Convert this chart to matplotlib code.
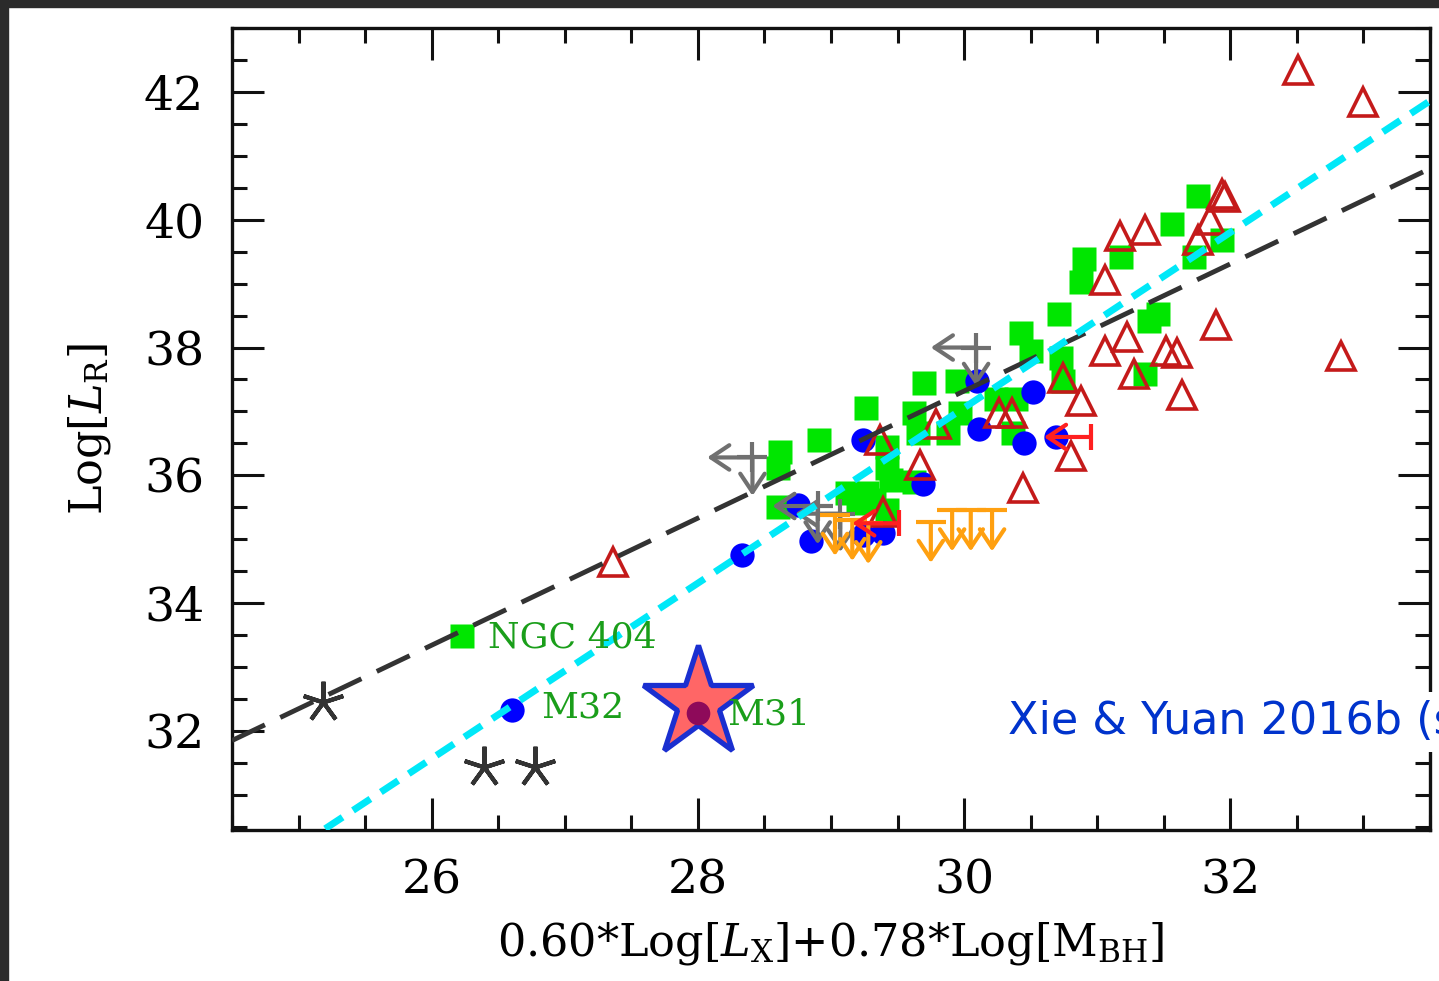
import matplotlib
matplotlib.use("Agg")
import matplotlib.pyplot as plt
from matplotlib.ticker import MultipleLocator
from matplotlib.patches import Rectangle

plt.rcParams['font.family'] = ['DejaVu Serif']
plt.rcParams['mathtext.fontset'] = 'dejavuserif'

# fitted relations (end points)
black_fit_x = [24.5, 33.5]
black_fit_y = [31.85, 40.8]
cyan_fit_x = [25.2, 33.5]
cyan_fit_y = [30.47, 41.86]

# green squares
green_x = [26.23, 28.62, 28.60, 28.60, 28.91, 29.26, 29.42, 29.42, 29.45, 29.62,
           29.12, 29.27, 29.20, 29.32, 29.42, 29.62, 29.65, 29.70, 29.88, 29.95,
           29.97, 30.24, 30.37, 30.39, 30.43, 30.50, 30.71, 30.73, 30.74, 30.88,
           30.90, 31.18, 31.36, 31.39, 31.46, 31.56, 31.73, 31.76, 31.94]
green_y = [33.49, 36.36, 36.11, 35.50, 36.56, 37.06, 36.44, 36.12, 35.92, 35.89,
           35.72, 35.72, 35.56, 35.61, 35.45, 36.98, 36.67, 37.45, 36.67, 37.48,
           36.98, 37.20, 36.67, 37.20, 38.22, 37.95, 38.53, 37.83, 37.48, 39.03,
           39.38, 39.41, 37.59, 38.41, 38.53, 39.94, 39.41, 40.37, 39.69]

# blue circles
blue_x = [26.60, 28.33, 28.75, 28.85, 29.24, 29.39, 29.24, 29.69, 30.10, 30.52,
          30.11, 30.45, 30.69]
blue_y = [32.33, 34.75, 35.53, 34.98, 35.06, 35.09, 36.55, 35.87, 37.48, 37.30,
          36.73, 36.50, 36.60]

# open red triangles
tri_x = [32.51, 33.00, 31.94, 31.96, 31.85, 31.76, 31.17, 31.36, 31.06, 31.89,
         31.22, 31.06, 31.52, 31.60, 32.83, 31.28, 30.74, 30.88, 31.64, 30.26,
         30.36, 29.79, 29.37, 29.67, 30.80, 30.44, 29.39, 27.36]
tri_y = [42.34, 41.84, 40.41, 40.36, 40.00, 39.69, 39.75, 39.84, 39.06, 38.36,
         38.17, 37.94, 37.94, 37.91, 37.86, 37.59, 37.52, 37.17, 37.25, 36.98,
         36.98, 36.81, 36.55, 36.16, 36.31, 35.80, 35.42, 34.64]

# gray asterisks
ast_x = [25.18, 26.39, 26.78]
ast_y = [32.45, 31.44, 31.44]

# gray limits (left + down)
glim_x = [28.41, 30.09, 28.90, 29.07]
glim_y = [36.28, 38.00, 35.52, 35.40]

# orange upper limits
olim_x = [29.03, 29.16, 29.28, 29.75, 29.91, 30.05, 30.21]
olim_y = [35.38, 35.30, 35.25, 35.27, 35.45, 35.45, 35.45]

# red limits (left)
rlim_x = [30.95, 29.51]
rlim_y = [36.60, 35.25]

# M31
m31_x, m31_y = 28.0, 32.44
m31_core_x, m31_core_y = 28.0, 32.28

labels = ["NGC 404", "M32", "M31"]
label_x = [26.42, 26.82, 28.22]
label_y = [33.47, 32.36, 32.25]

fig = plt.figure(figsize=(14.39, 9.81), dpi=100)
ax = fig.add_axes([232 / 1439, 1 - 830 / 981, 1198 / 1439, 802 / 981])

ax.plot(green_x, green_y, 's', ms=17, color='#00e600', mec='none', zorder=3)
ax.plot(blue_x, blue_y, 'o', ms=17.5, color='#0000ff', mec='none', zorder=3)
ax.plot(tri_x, tri_y, '^', ms=20, mfc='none', mec='#c41a1a', mew=2.6, zorder=4)
ax.plot(ast_x, ast_y, marker=(5, 2, 0), ls='none', ms=30, mec='#333333', mew=3, zorder=4)

arr = dict(arrowstyle='->,head_length=0.6,head_width=0.4', mutation_scale=22,
           shrinkA=0, shrinkB=0)
for x, y in zip(glim_x, glim_y):
    ax.plot(x, y, '+', ms=22, mew=3, color='#707070', zorder=5)
    ax.annotate('', xy=(x - 0.34, y), xytext=(x, y),
                arrowprops=dict(color='#707070', lw=3, **arr), zorder=5)
    ax.annotate('', xy=(x, y - 0.6), xytext=(x, y),
                arrowprops=dict(color='#707070', lw=3, **arr), zorder=5)
for x, y in zip(olim_x, olim_y):
    ax.plot(x, y, '_', ms=21, mew=3, color='#ffa010', zorder=5)
    ax.annotate('', xy=(x, y - 0.64), xytext=(x, y),
                arrowprops=dict(color='#ffa010', lw=3, **arr), zorder=5)
for x, y in zip(rlim_x, rlim_y):
    ax.plot(x, y, '|', ms=19, mew=3, color='#ff2020', zorder=5)
    ax.annotate('', xy=(x - 0.35, y), xytext=(x, y),
                arrowprops=dict(color='#ff2020', lw=3, **arr), zorder=5)

ax.plot(black_fit_x, black_fit_y, color='#333333', lw=3.5, dashes=(7.5, 3.5), zorder=6)
ax.plot(cyan_fit_x, cyan_fit_y, color='#00e8f8', lw=5, dashes=(3.0, 1.8), zorder=6)

ax.plot(m31_x, m31_y, '*', ms=84, mfc='#ff6666', mec='#1a2fd0', mew=3.8, zorder=7)
ax.plot(m31_core_x, m31_core_y, 'o', ms=17, color='#8e0a5a', mec='none', zorder=8)

for t, x, y in zip(labels, label_x, label_y):
    ax.text(x, y, t, color='#1a9e1a', fontsize=26, va='center', ha='left', zorder=8)

ax.set_xlim(24.5, 33.5)
ax.set_ylim(30.45, 43.0)
ax.xaxis.set_major_locator(MultipleLocator(2))
ax.xaxis.set_minor_locator(MultipleLocator(0.5))
ax.yaxis.set_major_locator(MultipleLocator(2))
ax.yaxis.set_minor_locator(MultipleLocator(0.5))
ax.tick_params(which='both', direction='in', top=True, right=True, width=2.2, color='#111111')
ax.tick_params(which='major', length=23, labelsize=34, pad=20)
ax.tick_params(which='minor', length=11)
for s in ax.spines.values():
    s.set_linewidth(2.4)
    s.set_color('#111111')

ax.set_xlabel(r"0.60*Log[$L_{\rm X}$]+0.78*Log[M$_{\rm BH}$]", fontsize=32, labelpad=12)
ax.set_ylabel(r"Log[$L_{\rm R}$]", fontsize=32, labelpad=22)

# caption runs off the right edge, as in the original slide
fig.text(1008 / 1439, 1 - 722 / 981, "Xie & Yuan 2016b (s", family='DejaVu Sans',
         fontsize=32, color='#0033cc', ha='left', va='center',
         bbox=dict(facecolor='white', edgecolor='none', pad=6), zorder=10)

fig.patches.append(Rectangle((0, 1 - 7 / 981), 1, 7 / 981, transform=fig.transFigure,
                             color='#2b2b2b', zorder=20))
fig.patches.append(Rectangle((0, 0), 8 / 1439, 1, transform=fig.transFigure,
                             color='#2b2b2b', zorder=20))

fig.savefig("out.png", dpi=100)
